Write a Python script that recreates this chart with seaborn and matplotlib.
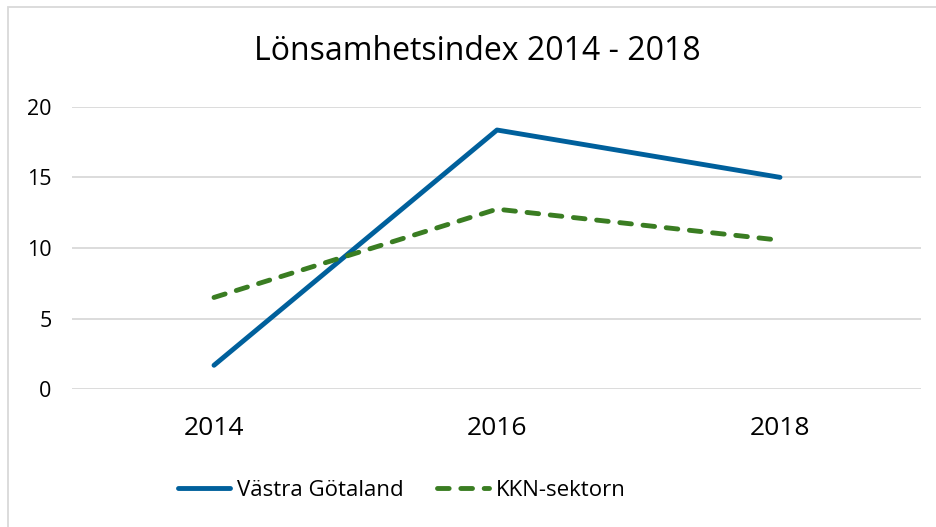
import pandas as pd
import seaborn as sns
import matplotlib.pyplot as plt
from matplotlib.patches import Rectangle

# data
years = ['2014', '2016', '2018']
vastra_gotaland = [1.7, 18.35, 15.0]
kkn_sektorn = [6.5, 12.75, 10.55]
series_names = ['Västra Götaland', 'KKN-sektorn']
colors = ['#00609C', '#3A7D22']

df = pd.DataFrame({
    'year': years * 2,
    'value': vastra_gotaland + kkn_sektorn,
    'series': [series_names[0]] * 3 + [series_names[1]] * 3,
})

sns.set_style('white')
plt.rcParams['font.family'] = ['Open Sans', 'DejaVu Sans']
plt.rcParams['text.color'] = 'black'

fig = plt.figure(figsize=(9.37, 5.27), dpi=100)
ax = fig.add_axes([72.5 / 937, 1 - 389.3 / 527, 849 / 937, 282.6 / 527])

sns.lineplot(data=df, x='year', y='value', hue='series', style='series',
             palette=colors, dashes={series_names[0]: '', series_names[1]: (2.4, 2.4)},
             linewidth=3.5, ax=ax, sort=False)
for line in ax.get_lines():
    line.set_solid_capstyle('round')
    line.set_dash_capstyle('round')

ax.set_xlim(-0.5, 2.5)
ax.set_ylim(0, 20)
ax.set_yticks([0, 5, 10, 15, 20])
ax.yaxis.grid(True, color='#D9D9D9', linewidth=1.3)
ax.set_axisbelow(True)
for s in ax.spines.values():
    s.set_visible(False)
ax.tick_params(axis='both', length=0, colors='black')
ax.tick_params(axis='y', pad=15, labelsize=15.5)
ax.tick_params(axis='x', pad=19, labelsize=19)
ax.set_xlabel('')
ax.set_ylabel('')

fig.text(0.509, 1 - 51 / 527, 'Lönsamhetsindex 2014 - 2018', ha='center', va='center', fontsize=23)

handles, labels = ax.get_legend_handles_labels()
for h in handles:
    h.set_solid_capstyle('round')
    h.set_dash_capstyle('round')
ax.legend(handles, labels, loc='center', bbox_to_anchor=(402 / 937, 1 - 490 / 527), bbox_transform=fig.transFigure,
          ncol=2, frameon=False, fontsize=16, handlelength=2.35, columnspacing=1.5, handletextpad=0.3)

# outer chart border
fig.patches.append(Rectangle((8 / 937, -0.1), 1.1, 1 - 7 / 527 + 0.1, transform=fig.transFigure,
                             fill=False, edgecolor='#D9D9D9', linewidth=1.3))

plt.savefig('out.png', dpi=100)
